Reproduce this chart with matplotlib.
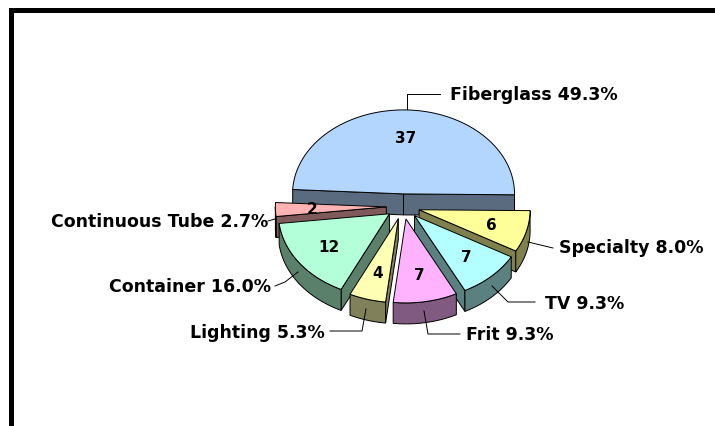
import numpy as np
import matplotlib
matplotlib.use("Agg")
import matplotlib.pyplot as plt
from matplotlib.patches import Polygon, Rectangle

# data, clockwise from the top slice
names = ["Fiberglass", "Specialty", "TV", "Frit", "Lighting", "Container", "Continuous Tube"]
values = [37, 6, 7, 7, 4, 12, 2]
colors = ["#B3D6FF", "#FFFF99", "#B3FFFF", "#FFB3FF", "#FFFFB3", "#B3FFD9", "#FFB3B3"]
walls = ["#5A6B80", "#80804D", "#5A8080", "#805A80", "#80805A", "#5A806C", "#805A5A"]

# back to front
draw_order = [0, 6, 5, 1, 2, 4, 3]

# label text anchor and leader line per slice, in figure pixels
label_pos = [(450, 95, "left"), (559, 248, "left"), (545, 304, "left"), (466, 335, "left"),
             (325, 333, "right"), (271, 287, "right"), (268, 222, "right")]
leaders = [[(407, 110), (407, 95), (440, 95)],
           [(528, 243), (553, 249)],
           [(492, 287), (508, 303), (535, 303)],
           [(424, 312), (428, 335), (460, 335)],
           [(366, 310), (362, 332), (330, 332)],
           [(298, 273), (285, 283), (275, 287)],
           [(275, 220), (268, 222)]]

# pie geometry
cx, cy = 403, 207.5
rx, ry = 111, 84
depth = 21
explode = 0.15
start = 177

fig = plt.figure(figsize=(7.15, 4.27), dpi=100)
ax = fig.add_axes([0, 0, 1, 1])
ax.set_xlim(0, 715)
ax.set_ylim(427, 0)
ax.axis("off")

# frame, only top and left are visible
ax.add_patch(Rectangle((9, 9), 706, 4.5, fc="black", ec="none"))
ax.add_patch(Rectangle((9, 9), 5, 418, fc="black", ec="none"))

total = sum(values)
ends = start - 360 * np.cumsum(values) / total
starts = np.r_[start, ends[:-1]]


def point(ox, oy, deg):
    a = np.radians(deg)
    return ox + rx * np.cos(a), oy - ry * np.sin(a)


for i in draw_order:
    a0, a1 = starts[i], ends[i]
    mid = np.radians((a0 + a1) / 2)
    ox = cx + explode * rx * np.cos(mid)
    oy = cy - explode * ry * np.sin(mid)

    # radial side faces, only the ones that face the viewer
    for a, facing in ((a0, np.cos(np.radians(a0)) < 0), (a1, np.cos(np.radians(a1)) > 0)):
        if not facing:
            continue
        px, py = point(ox, oy, a)
        ax.add_patch(Polygon([(ox, oy), (px, py), (px, py + depth), (ox, oy + depth)],
                             fc=walls[i], ec="black", lw=0.7))

    # outer wall, lower half of the rim only
    lo, hi = max(a1, -180), min(a0, 0)
    if hi > lo:
        t = np.linspace(lo, hi, 50)
        xs, ys = point(ox, oy, t)
        rim = np.r_[np.c_[xs, ys], np.c_[xs, ys + depth][::-1]]
        ax.add_patch(Polygon(rim, fc=walls[i], ec="black", lw=0.7))

    # top face
    t = np.linspace(a0, a1, 80)
    xs, ys = point(ox, oy, t)
    ax.add_patch(Polygon(np.r_[[(ox, oy)], np.c_[xs, ys]], fc=colors[i], ec="black", lw=0.7))

    # value on the slice
    tx = ox + 0.67 * rx * np.cos(mid)
    ty = oy - 0.67 * ry * np.sin(mid)
    ax.text(tx, ty, str(values[i]), ha="center", va="center",
            fontsize=11, fontweight="bold", color="black", zorder=5)

# outer labels and leader lines
for i, name in enumerate(names):
    line = np.array(leaders[i])
    ax.plot(line[:, 0], line[:, 1], color="black", lw=0.7, zorder=4)
    x, y, ha = label_pos[i]
    ax.text(x, y, f"{name} {100 * values[i] / total:.1f}%", ha=ha, va="center",
            fontsize=12.5, fontweight="bold", color="black", zorder=5)

fig.savefig("out.png", dpi=100, facecolor="white")
